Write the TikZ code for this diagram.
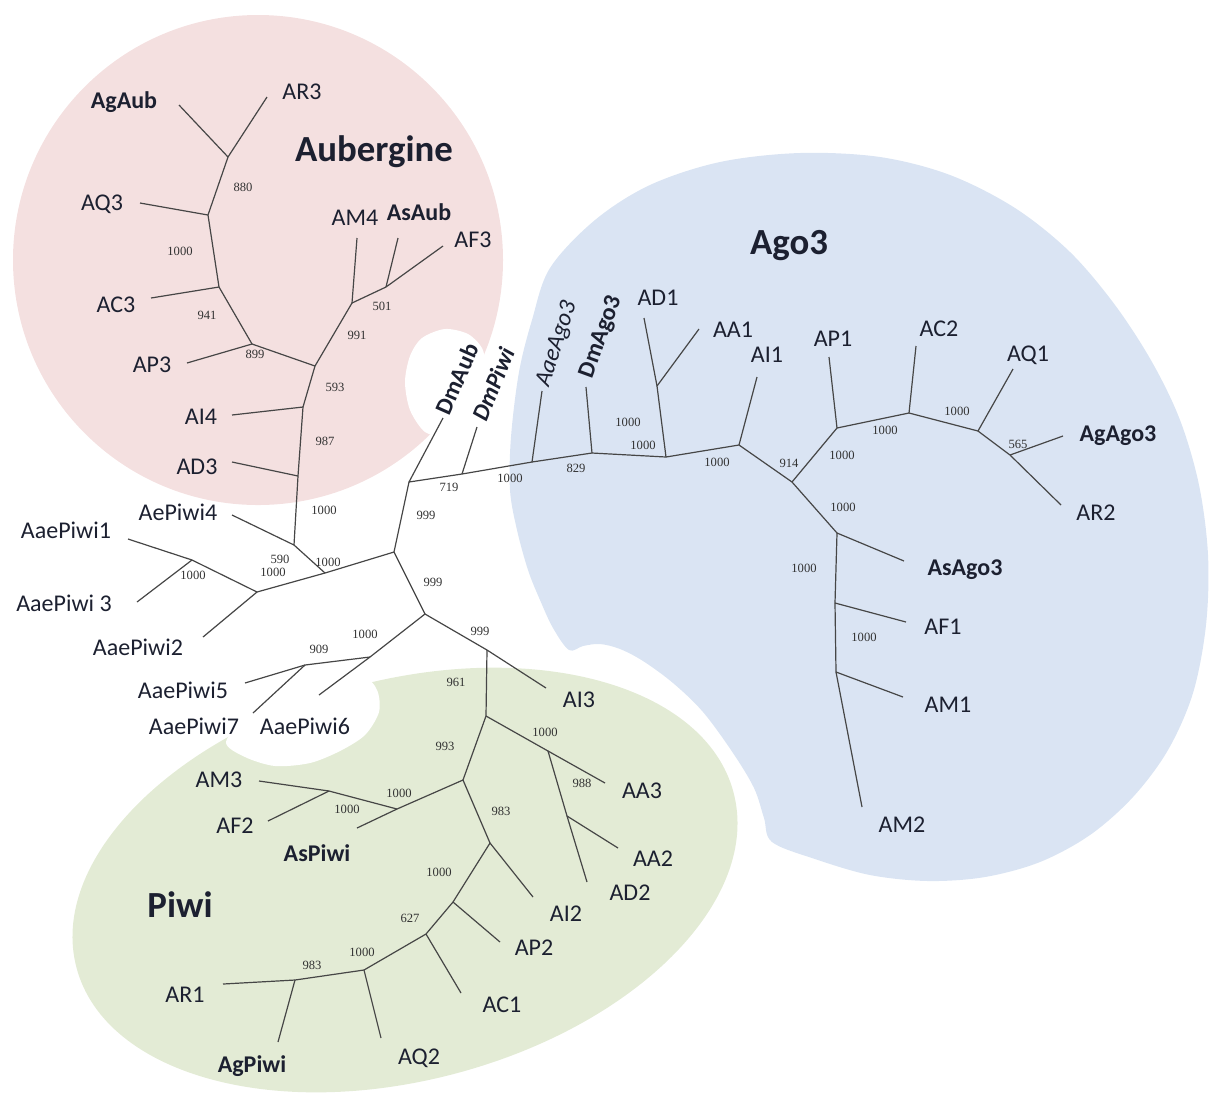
\documentclass[tikz,border=0pt]{standalone}
\usepackage{fontspec}
\setmainfont{Carlito}
\newfontfamily\bsfont{Liberation Serif}
\definecolor{pinkbg}{RGB}{244,224,224}
\definecolor{bluebg}{RGB}{218,228,243}
\definecolor{greenbg}{RGB}{227,235,213}
\definecolor{linecol}{RGB}{70,70,70}
\definecolor{labelcol}{RGB}{28,32,48}
\definecolor{bscol}{RGB}{50,50,50}
\tikzset{
  tip/.style={font=\fontsize{12}{12}\selectfont, text=labelcol, inner sep=0pt},
  btip/.style={font=\fontsize{12}{12}\selectfont\bfseries, text=labelcol, inner sep=0pt},
  itip/.style={font=\fontsize{12}{12}\selectfont\itshape, text=labelcol, inner sep=0pt},
  bitip/.style={font=\fontsize{12}{12}\selectfont\bfseries\itshape, text=labelcol, inner sep=0pt},
  bs/.style={font=\bsfont\fontsize{6.3}{6.3}\selectfont, text=bscol, inner sep=0pt},
  clade/.style={font=\fontsize{18.4}{18.4}\selectfont\bfseries, text=labelcol, inner sep=0pt},
  branch/.style={draw=linecol, line width=0.6pt},
}
\begin{document}
\begin{tikzpicture}[x=0.5pt,y=-0.5pt]
\useasboundingbox (0,0) rectangle (1214,1094);
% ---------- backgrounds ----------
\fill[pinkbg] (258,260) circle[radius=245];
\fill[white] plot[smooth cycle] coordinates {(425,432) (410,410) (405,382) (410,356) (422,338) (445,329) (468,334) (482,348) (485,365) (482,392) (468,420) (445,435)};
\fill[bluebg] plot[smooth cycle, tension=0.55] coordinates {(550,268) (595,220) (650,185) (720,162) (800,153) (880,157) (950,175) (1015,208) (1070,252) (1115,305) (1152,362) (1180,420) (1199,485) (1208,555) (1206,625) (1193,693) (1168,750) (1133,797) (1090,835) (1040,862) (985,877) (928,881) (870,875) (815,859) (772,842) (764,818) (754,788) (733,753) (703,712) (673,683) (643,661) (620,649) (600,644) (583,646) (569,650) (553,628) (540,600) (528,570) (517,530) (510,490) (511,437) (519,372) (532,320)};
\fill[greenbg, rotate around={15:(405,880)}] (405,880) ellipse[x radius=340, y radius=200];
\fill[white] plot[smooth cycle] coordinates {(226,742) (245,757) (275,766) (310,763) (340,751) (365,735) (379,712) (377,690) (362,679) (300,688) (250,714)};
% ---------- tree coordinates ----------
% Aubergine
\coordinate (tAgAub) at (179,105);
\coordinate (tAR3) at (267,97);
\coordinate (n880) at (228,157);
\coordinate (nAQ3) at (208,215);
\coordinate (tAQ3) at (140,203);
\coordinate (n941) at (219,287);
\coordinate (tAC3) at (151,298);
\coordinate (n899) at (252,344);
\coordinate (tAP3) at (187,363);
\coordinate (n593) at (315,366);
\coordinate (n991) at (352,303);
\coordinate (tAM4) at (357,238);
\coordinate (n501) at (386,287);
\coordinate (tAsAub) at (398,238);
\coordinate (tAF3) at (443,246);
\coordinate (n987) at (303,407);
\coordinate (tAI4) at (232,415);
\coordinate (nAD3) at (298,476);
\coordinate (tAD3) at (232,462);
\coordinate (nB) at (294,545);
\coordinate (tAePiwi4) at (232,515);
\coordinate (nA) at (325,573);
\coordinate (nC) at (257,592);
\coordinate (nD) at (192,560);
\coordinate (tAaePiwi1) at (128,539);
\coordinate (tAaePiwi3) at (137,602);
\coordinate (tAaePiwi2) at (203,637);
\coordinate (nE) at (394,552);
\coordinate (nF) at (409,482);
\coordinate (tDmAub) at (443,418);
\coordinate (nG) at (462,474);
\coordinate (tDmPiwi) at (477,427);
% Ago3
\coordinate (nH) at (532,462);
\coordinate (tAaeAgo3) at (542,391);
\coordinate (nDm) at (592,453);
\coordinate (tDmAgo3) at (586,387);
\coordinate (nI) at (666,457);
\coordinate (nAD1) at (657,386);
\coordinate (tAD1) at (644,318);
\coordinate (tAA1) at (699,329);
\coordinate (nJ) at (739,445);
\coordinate (tAI1) at (757,377);
\coordinate (nK) at (792,482);
\coordinate (nL) at (837,428);
\coordinate (tAP1) at (829,357);
\coordinate (nM) at (909,413);
\coordinate (tAC2) at (916,346);
\coordinate (nN) at (978,431);
\coordinate (tAQ1) at (1013,369);
\coordinate (nO) at (1010,455);
\coordinate (tAgAgo3) at (1063,436);
\coordinate (tAR2) at (1061,505);
\coordinate (nP) at (837,533);
\coordinate (tAsAgo3) at (904,561);
\coordinate (nQ) at (835,603);
\coordinate (tAF1) at (906,622);
\coordinate (nR) at (836,672);
\coordinate (tAM1) at (903,697);
\coordinate (tAM2) at (862,807);
% lower part / Piwi
\coordinate (nS) at (425,614);
\coordinate (nT) at (370,657);
\coordinate (tAaePiwi6) at (319,695);
\coordinate (nU) at (305,665);
\coordinate (tAaePiwi5) at (245,683);
\coordinate (tAaePiwi7) at (253,713);
\coordinate (nV) at (487,650);
\coordinate (tAI3) at (546,688);
\coordinate (nW) at (486,716);
\coordinate (nX) at (548,751);
\coordinate (tAA3) at (605,783);
\coordinate (nY) at (567,816);
\coordinate (tAA2) at (618,848);
\coordinate (tAD2) at (587,882);
\coordinate (nZ) at (463,780);
\coordinate (nAA) at (397,809);
\coordinate (tAsPiwi) at (357,828);
\coordinate (nBB) at (329,791);
\coordinate (tAM3) at (259,781);
\coordinate (tAF2) at (268,821);
\coordinate (nCC) at (490,843);
\coordinate (tAI2) at (533,897);
\coordinate (nDD) at (453,902);
\coordinate (tAP2) at (500,942);
\coordinate (n627) at (426,934);
\coordinate (tAC1) at (461,993);
\coordinate (nAQ2) at (364,970);
\coordinate (tAQ2) at (381,1038);
\coordinate (n983) at (295,980);
\coordinate (tAR1) at (223,984);
\coordinate (tAgPiwi) at (278,1042);
% ---------- branches ----------
\foreach \a/\b in {tAgAub/n880, tAR3/n880, n880/nAQ3, tAQ3/nAQ3, nAQ3/n941, tAC3/n941, n941/n899, tAP3/n899, n899/n593, n593/n991, n991/tAM4, n991/n501, n501/tAsAub, n501/tAF3, n593/n987, tAI4/n987, n987/nAD3, tAD3/nAD3, nAD3/nB, nB/tAePiwi4, nB/nA, nA/nC, nA/nE, nC/nD, nD/tAaePiwi1, nD/tAaePiwi3, nC/tAaePiwi2, nE/nF, nF/tDmAub, nF/nG, nG/tDmPiwi, nG/nH, nH/tAaeAgo3, nH/nDm, nDm/tDmAgo3, nDm/nI, nI/nAD1, nAD1/tAD1, nAD1/tAA1, nI/nJ, nJ/tAI1, nJ/nK, nK/nL, nL/tAP1, nL/nM, nM/tAC2, nM/nN, nN/tAQ1, nN/nO, nO/tAgAgo3, nO/tAR2, nK/nP, nP/tAsAgo3, nP/nQ, nQ/tAF1, nQ/nR, nR/tAM1, nR/tAM2, nE/nS, nS/nT, nT/tAaePiwi6, nT/nU, nU/tAaePiwi5, nU/tAaePiwi7, nS/nV, nV/tAI3, nV/nW, nW/nX, nX/tAA3, nX/nY, nY/tAA2, nY/tAD2, nW/nZ, nZ/nAA, nAA/tAsPiwi, nAA/nBB, nBB/tAM3, nBB/tAF2, nZ/nCC, nCC/tAI2, nCC/nDD, nDD/tAP2, nDD/n627, n627/tAC1, n627/nAQ2, nAQ2/tAQ2, nAQ2/n983, n983/tAR1, n983/tAgPiwi}
  \draw[branch] (\a) -- (\b);
% ---------- clade titles ----------
\node[clade] (cAub) at (374,152) {Aubergine};
\node[clade] (cAgo) at (789,246) {Ago3};
\node[clade] (cPiwi) at (180,905) {Piwi};
% ---------- tip labels ----------
\node[btip] (lAgAub) at (124,102) {AgAub};
\node[tip] (lAR3) at (302,92) {AR3};
\node[tip] (lAQ3) at (102,204) {AQ3};
\node[tip] (lAC3) at (116,305) {AC3};
\node[tip] (lAP3) at (152,365) {AP3};
\node[tip] (lAM4) at (355,218) {AM4};
\node[btip] (lAsAub) at (419,212) {AsAub};
\node[tip] (lAF3) at (473,240) {AF3};
\node[tip] (lAI4) at (201,417) {AI4};
\node[tip] (lAD3) at (197,467) {AD3};
\node[tip] (lAePiwi4) at (178,512) {AePiwi4};
\node[tip] (lAaePiwi1) at (66,530) {AaePiwi1};
\node[tip] (lAaePiwi3) at (64,603) {AaePiwi 3};
\node[tip] (lAaePiwi2) at (138,647) {AaePiwi2};
\node[btip, rotate=66] (lDmAub) at (457,379) {DmAub};
\node[bitip, rotate=68] (lDmPiwi) at (493,384) {DmPiwi};
\node[itip, rotate=72] (lAaeAgo3) at (557,344) {AaeAgo3};
\node[btip, rotate=70] (lDmAgo3) at (601,337) {DmAgo3};
\node[tip] (lAD1) at (658,298) {AD1};
\node[tip] (lAA1) at (733,330) {AA1};
\node[tip] (lAI1) at (767,355) {AI1};
\node[tip] (lAP1) at (833,339) {AP1};
\node[tip] (lAC2) at (939,329) {AC2};
\node[tip] (lAQ1) at (1028,355) {AQ1};
\node[btip] (lAgAgo3) at (1118,436) {AgAgo3};
\node[tip] (lAR2) at (1096,513) {AR2};
\node[btip] (lAsAgo3) at (965,570) {AsAgo3};
\node[tip] (lAF1) at (943,627) {AF1};
\node[tip] (lAM1) at (948,705) {AM1};
\node[tip] (lAM2) at (902,825) {AM2};
\node[tip] (lAaePiwi5) at (183,690) {AaePiwi5};
\node[tip] (lAaePiwi7) at (194,726) {AaePiwi7};
\node[tip] (lAaePiwi6) at (305,726) {AaePiwi6};
\node[tip] (lAI3) at (579,700) {AI3};
\node[tip] (lAA3) at (642,791) {AA3};
\node[tip] (lAA2) at (653,859) {AA2};
\node[tip] (lAD2) at (630,893) {AD2};
\node[tip] (lAM3) at (219,780) {AM3};
\node[tip] (lAF2) at (235,826) {AF2};
\node[btip] (lAsPiwi) at (317,853) {AsPiwi};
\node[tip] (lAI2) at (566,914) {AI2};
\node[tip] (lAP2) at (534,948) {AP2};
\node[tip] (lAC1) at (502,1005) {AC1};
\node[tip] (lAQ2) at (419,1058) {AQ2};
\node[tip] (lAR1) at (185,995) {AR1};
\node[btip] (lAgPiwi) at (252,1066) {AgPiwi};
% ---------- bootstrap values ----------
\node[bs] (b1) at (243,187) {880};
\node[bs] (b2) at (180,251) {1000};
\node[bs] (b3) at (207,315) {941};
\node[bs] (b4) at (255,354) {899};
\node[bs] (b5) at (382,306) {501};
\node[bs] (b6) at (357,335) {991};
\node[bs] (b7) at (335,387) {593};
\node[bs] (b8) at (325,441) {987};
\node[bs] (b9) at (324,510) {1000};
\node[bs] (b10) at (280,559) {590};
\node[bs] (b11) at (273,572) {1000};
\node[bs] (b12) at (328,562) {1000};
\node[bs] (b13) at (193,575) {1000};
\node[bs] (b14) at (449,487) {719};
\node[bs] (b15) at (426,515) {999};
\node[bs] (b16) at (510,478) {1000};
\node[bs] (b17) at (576,468) {829};
\node[bs] (b18) at (628,422) {1000};
\node[bs] (b19) at (643,445) {1000};
\node[bs] (b20) at (717,462) {1000};
\node[bs] (b21) at (789,463) {914};
\node[bs] (b22) at (842,455) {1000};
\node[bs] (b23) at (885,430) {1000};
\node[bs] (b24) at (957,411) {1000};
\node[bs] (b25) at (1018,444) {565};
\node[bs] (b26) at (843,507) {1000};
\node[bs] (b27) at (804,568) {1000};
\node[bs] (b28) at (864,637) {1000};
\node[bs] (b29) at (433,582) {999};
\node[bs] (b30) at (365,634) {1000};
\node[bs] (b31) at (319,649) {909};
\node[bs] (b32) at (480,631) {999};
\node[bs] (b33) at (456,682) {961};
\node[bs] (b34) at (545,732) {1000};
\node[bs] (b35) at (582,783) {988};
\node[bs] (b36) at (445,746) {993};
\node[bs] (b37) at (399,793) {1000};
\node[bs] (b38) at (347,809) {1000};
\node[bs] (b39) at (501,811) {983};
\node[bs] (b40) at (439,872) {1000};
\node[bs] (b41) at (410,918) {627};
\node[bs] (b42) at (362,952) {1000};
\node[bs] (b43) at (312,965) {983};
\end{tikzpicture}
\end{document}
